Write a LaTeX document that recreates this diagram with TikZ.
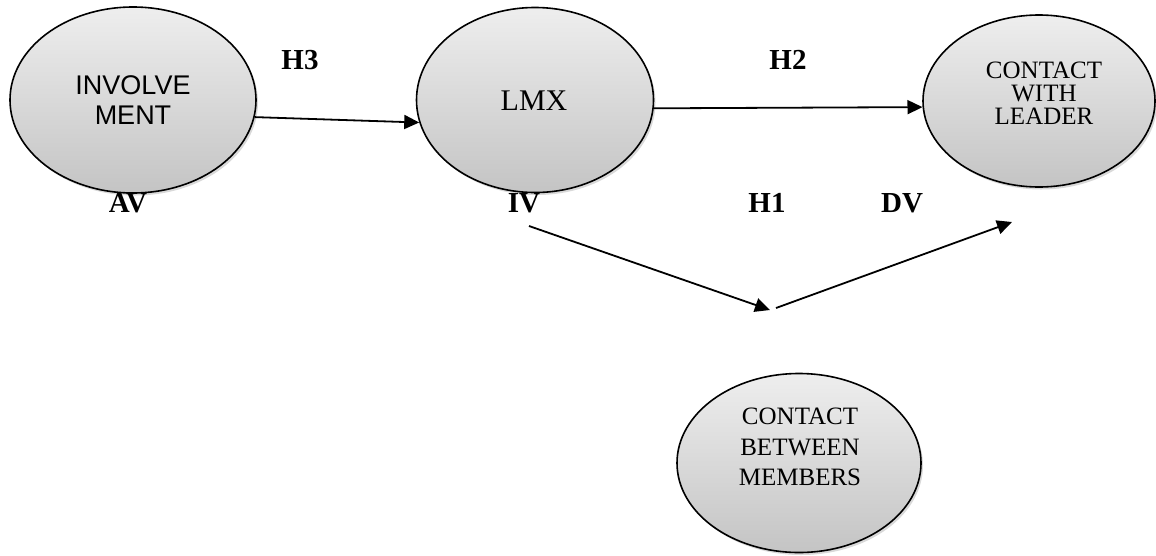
\documentclass[tikz,border=0pt]{standalone}
\usepackage{fontspec}
\setmainfont{Liberation Serif}
\newfontfamily\arialfont{Liberation Sans}
\usetikzlibrary{shapes.geometric,arrows.meta,shadows}

\definecolor{ovaltop}{RGB}{238,238,238}
\definecolor{ovalbottom}{RGB}{196,196,196}

\tikzset{
  oval/.style={ellipse, draw=black, line width=1.6pt, inner sep=0pt,
    top color=ovaltop, bottom color=ovalbottom,
    drop shadow={opacity=0.3, shadow xshift=2pt, shadow yshift=-2.5pt}},
  ovaltext/.style={align=center, inner sep=0pt},
  hyp/.style={font=\fontsize{29}{29}\selectfont\bfseries, inner sep=0pt},
  arr/.style={line width=1.8pt, -{Triangle[length=15pt,width=14pt]}}
}

\begin{document}
\begin{tikzpicture}[x=1pt,y=-1pt]

\useasboundingbox (0,0) rectangle (1156,555);

% Variables (ellipses)
\node[oval, minimum width=246pt, minimum height=186pt] (involve) at (133,100) {};
\node[oval, minimum width=237pt, minimum height=185pt] (lmx) at (535,100) {};
\node[oval, minimum width=232pt, minimum height=172pt] (leader) at (1039,101) {};
\node[oval, minimum width=244pt, minimum height=179pt] (members) at (799,463) {};

% Texts inside
\node[ovaltext, font=\arialfont\fontsize{27}{30}\selectfont] (involvetxt) at (133,100) {INVOLVE\\MENT};
\node[ovaltext, font=\fontsize{30}{30}\selectfont] (lmxtxt) at (534,101) {LMX};
\node[ovaltext, font=\fontsize{25}{22.8}\selectfont] (leadertxt) at (1044,93) {CONTACT\\WITH\\LEADER};
\node[ovaltext, font=\fontsize{25}{30.5}\selectfont] (memberstxt) at (800,447) {CONTACT\\BETWEEN\\MEMBERS};

% Labels
\node[hyp] (hthree) at (300,60) {H3};
\node[hyp] (htwo) at (788,60) {H2};
\node[hyp] (hone) at (767,203) {H1};
\node[hyp] (av) at (128,203) {AV};
\node[hyp] (iv) at (524,203) {IV};
\node[hyp] (dv) at (902,203) {DV};

% Paths
\draw[arr] (involve.-8) -- (lmx.191);
\draw[arr] (lmx.-4) -- (leader.183);

\coordinate (ivstart) at (529,226);
\coordinate (ivtip) at (770,310);
\coordinate (mbstart) at (776,308);
\coordinate (dvtip) at (1012,222);
\draw[arr] (ivstart) -- (ivtip);
\draw[arr] (mbstart) -- (dvtip);

\end{tikzpicture}
\end{document}
